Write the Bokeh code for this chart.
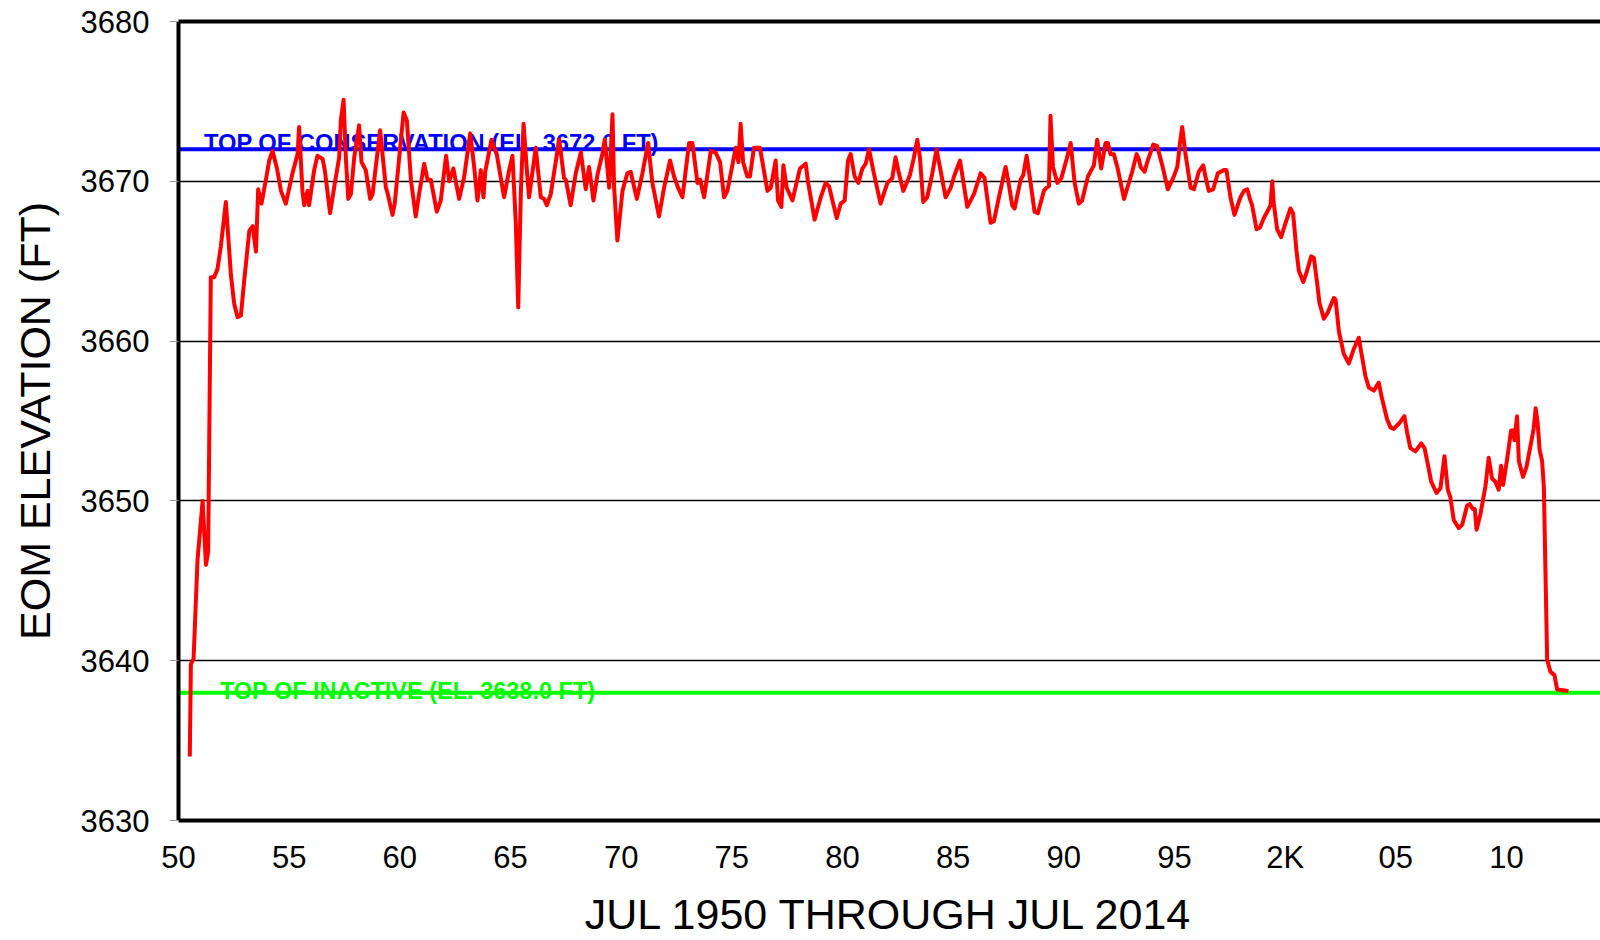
from bokeh.plotting import figure
from bokeh.models import Range1d, FixedTicker, LinearAxis, Span, Label
from bokeh.embed import file_html
from bokeh.resources import INLINE

# ---- data ----
years = [
    1950.51, 1950.56, 1950.68, 1950.86, 1951.09, 1951.24, 1951.34, 1951.46, 1951.61, 1951.76,
    1951.91, 1952.14, 1952.37, 1952.52, 1952.67, 1952.82, 1952.97, 1953.20, 1953.35, 1953.50,
    1953.60, 1953.75, 1953.95, 1954.10, 1954.25, 1954.45, 1954.63, 1954.85, 1955.15, 1955.38,
    1955.45, 1955.60, 1955.68, 1955.83, 1955.90, 1956.13, 1956.28, 1956.51, 1956.61, 1956.85,
    1957.03, 1957.26, 1957.34, 1957.46, 1957.56, 1957.67, 1957.79, 1957.94, 1958.16, 1958.27,
    1958.46, 1958.66, 1958.77, 1959.11, 1959.37, 1959.44, 1959.67, 1959.77, 1960.17, 1960.32,
    1960.50, 1960.72, 1960.87, 1961.10, 1961.25, 1961.40, 1961.67, 1961.85, 1962.09, 1962.23,
    1962.42, 1962.68, 1962.91, 1963.18, 1963.36, 1963.51, 1963.66, 1963.78, 1963.86, 1964.14,
    1964.38, 1964.71, 1964.94, 1965.09, 1965.24, 1965.35, 1965.47, 1965.59, 1965.74, 1965.84,
    1966.14, 1966.37, 1966.52, 1966.64, 1966.82, 1967.20, 1967.42, 1967.50, 1967.72, 1967.95,
    1968.18, 1968.40, 1968.55, 1968.75, 1968.93, 1969.15, 1969.26, 1969.46, 1969.61, 1969.68,
    1969.83, 1970.06, 1970.28, 1970.43, 1970.71, 1970.96, 1971.22, 1971.41, 1971.71, 1971.94,
    1972.21, 1972.39, 1972.57, 1972.77, 1973.07, 1973.22, 1973.45, 1973.57, 1973.75, 1974.05,
    1974.27, 1974.47, 1974.65, 1974.80, 1975.18, 1975.30, 1975.40, 1975.51, 1975.70, 1975.82,
    1976.00, 1976.27, 1976.61, 1976.76, 1976.98, 1977.09, 1977.24, 1977.33, 1977.48, 1977.74,
    1978.08, 1978.34, 1978.44, 1978.74, 1979.02, 1979.24, 1979.39, 1979.74, 1979.92, 1980.10,
    1980.25, 1980.37, 1980.55, 1980.72, 1980.90, 1981.05, 1981.20, 1981.42, 1981.72, 1982.03,
    1982.25, 1982.40, 1982.55, 1982.75, 1983.05, 1983.23, 1983.38, 1983.50, 1983.65, 1983.83,
    1984.06, 1984.25, 1984.43, 1984.66, 1984.89, 1985.04, 1985.31, 1985.64, 1985.94, 1986.24,
    1986.42, 1986.69, 1986.84, 1987.07, 1987.37, 1987.48, 1987.67, 1987.78, 1988.05, 1988.17,
    1988.32, 1988.50, 1988.68, 1988.83, 1989.10, 1989.22, 1989.33, 1989.40, 1989.51, 1989.71,
    1989.89, 1990.13, 1990.31, 1990.49, 1990.68, 1990.83, 1991.09, 1991.36, 1991.51, 1991.69,
    1991.89, 1991.99, 1992.11, 1992.26, 1992.42, 1992.72, 1993.09, 1993.29, 1993.39, 1993.47,
    1993.65, 1993.77, 1994.04, 1994.22, 1994.45, 1994.70, 1994.97, 1995.13, 1995.25, 1995.35,
    1995.50, 1995.73, 1995.88, 1996.10, 1996.30, 1996.40, 1996.55, 1996.75, 1996.96, 1997.23,
    1997.35, 1997.53, 1997.71, 1997.98, 1998.14, 1998.29, 1998.41, 1998.51, 1998.71, 1998.86,
    1999.04, 1999.27, 1999.34, 1999.42, 1999.49, 1999.64, 1999.82, 2000.02, 2000.24, 2000.36,
    2000.51, 2000.62, 2000.82, 2000.97, 2001.18, 2001.30, 2001.45, 2001.55, 2001.75, 2001.93,
    2002.20, 2002.28, 2002.43, 2002.65, 2002.88, 2003.10, 2003.33, 2003.44, 2003.63, 2003.78,
    2004.01, 2004.23, 2004.38, 2004.61, 2004.76, 2004.91, 2005.18, 2005.33, 2005.39, 2005.51,
    2005.66, 2005.89, 2006.15, 2006.30, 2006.49, 2006.60, 2006.84, 2007.02, 2007.20, 2007.35,
    2007.47, 2007.62, 2007.85, 2008.00, 2008.22, 2008.34, 2008.48, 2008.57, 2008.65, 2008.83,
    2009.05, 2009.20, 2009.35, 2009.50, 2009.65, 2009.76, 2009.85, 2010.03, 2010.21, 2010.33,
    2010.36, 2010.48, 2010.56, 2010.75, 2010.90, 2011.08, 2011.23, 2011.32, 2011.41, 2011.50,
    2011.61, 2011.69, 2011.84, 2011.99, 2012.17, 2012.29, 2012.80,
]
elevation_ft = [
    3634.0, 3639.8, 3640.1, 3646.3, 3650.0, 3646.0, 3646.8, 3664.0, 3664.0, 3664.5,
    3665.9, 3668.7, 3664.1, 3662.3, 3661.5, 3661.6, 3663.8, 3666.9, 3667.2, 3665.6,
    3669.5, 3668.6, 3670.1, 3671.3, 3671.9, 3670.8, 3669.4, 3668.6, 3670.5, 3671.7,
    3673.4, 3669.4, 3668.5, 3669.4, 3668.5, 3670.7, 3671.6, 3671.4, 3670.7, 3668.0,
    3669.6, 3671.5, 3673.9, 3675.1, 3671.5, 3668.9, 3669.2, 3671.5, 3673.5, 3671.2,
    3670.7, 3668.9, 3669.2, 3673.2, 3669.6, 3669.3, 3667.9, 3668.6, 3674.3, 3673.8,
    3670.1, 3667.8, 3669.2, 3671.1, 3670.1, 3670.1, 3668.1, 3668.8, 3671.6, 3670.0,
    3670.8, 3668.9, 3670.3, 3673.0, 3670.9, 3668.8, 3670.7, 3669.0, 3670.6, 3672.6,
    3671.7, 3669.0, 3670.7, 3671.6, 3667.4, 3662.1, 3669.4, 3673.6, 3670.7, 3669.0,
    3672.1, 3669.0, 3668.9, 3668.5, 3669.2, 3672.6, 3670.2, 3670.1, 3668.5, 3670.5,
    3671.8, 3669.5, 3670.9, 3668.8, 3670.4, 3671.7, 3672.6, 3669.6, 3674.2, 3669.7,
    3666.3, 3669.4, 3670.5, 3670.6, 3668.9, 3670.5, 3672.4, 3669.9, 3667.8, 3669.6,
    3671.3, 3670.3, 3669.6, 3669.0, 3672.4, 3672.4, 3669.9, 3670.1, 3669.0, 3671.9,
    3671.8, 3671.2, 3669.0, 3669.4, 3672.1, 3671.2, 3673.6, 3671.2, 3670.3, 3670.3,
    3672.1, 3672.1, 3669.4, 3669.6, 3671.3, 3668.8, 3668.4, 3671.0, 3669.6, 3668.8,
    3670.8, 3671.1, 3670.0, 3667.6, 3669.0, 3669.9, 3669.7, 3667.7, 3668.6, 3668.8,
    3671.3, 3671.7, 3670.3, 3669.9, 3670.8, 3671.1, 3672.0, 3670.5, 3668.6, 3669.9,
    3670.2, 3671.5, 3670.5, 3669.4, 3670.4, 3671.5, 3672.6, 3671.5, 3668.7, 3669.0,
    3670.5, 3672.0, 3670.7, 3669.0, 3669.6, 3670.3, 3671.3, 3668.4, 3669.2, 3670.5,
    3670.2, 3667.4, 3667.5, 3669.0, 3670.9, 3670.1, 3668.5, 3668.3, 3670.1, 3670.4,
    3671.6, 3669.9, 3668.1, 3668.0, 3669.4, 3669.6, 3669.7, 3674.1, 3670.9, 3669.9,
    3670.2, 3671.4, 3672.4, 3669.9, 3668.6, 3668.8, 3670.3, 3671.0, 3672.6, 3670.8,
    3672.4, 3672.4, 3671.7, 3671.7, 3670.9, 3668.9, 3670.6, 3671.7, 3671.4, 3670.9,
    3670.6, 3671.2, 3672.3, 3672.2, 3671.0, 3669.5, 3670.3, 3670.9, 3672.4, 3673.4,
    3671.7, 3669.6, 3669.5, 3670.6, 3671.0, 3670.3, 3669.4, 3669.5, 3670.5, 3670.7,
    3670.7, 3669.0, 3667.9, 3669.0, 3669.4, 3669.5, 3668.9, 3668.5, 3667.0, 3667.1,
    3667.7, 3668.3, 3668.5, 3670.0, 3668.6, 3667.0, 3666.5, 3667.4, 3668.3, 3668.0,
    3665.7, 3664.4, 3663.7, 3664.3, 3665.3, 3665.2, 3663.6, 3662.4, 3661.4, 3661.8,
    3662.7, 3662.6, 3660.6, 3659.2, 3658.6, 3659.5, 3660.2, 3659.3, 3657.8, 3657.1,
    3656.9, 3657.4, 3656.4, 3655.1, 3654.6, 3654.5, 3654.9, 3655.2, 3655.3, 3654.3,
    3653.3, 3653.1, 3653.6, 3653.3, 3652.0, 3651.2, 3650.5, 3650.8, 3652.8, 3650.7,
    3650.2, 3648.8, 3648.3, 3648.5, 3649.7, 3649.8, 3649.5, 3649.5, 3648.2, 3649.2,
    3650.9, 3652.7, 3651.4, 3651.2, 3650.7, 3652.2, 3651.0, 3652.6, 3654.4, 3654.4,
    3653.8, 3655.3, 3652.5, 3651.5, 3652.1, 3653.4, 3654.5, 3655.8, 3654.9, 3653.2,
    3652.5, 3650.9, 3640.05, 3639.3, 3639.1, 3638.2, 3638.1,
]

tick_years = [1950, 1955, 1960, 1965, 1970, 1975, 1980, 1985, 1990, 1995, 2000, 2005, 2010]
tick_labels = ["50", "55", "60", "65", "70", "75", "80", "85", "90", "95", "2K", "05", "10"]
y_ticks = [3630, 3640, 3650, 3660, 3670, 3680]

top_conservation = 3672.0
top_inactive = 3638.0
conservation_text = "TOP OF CONSERVATION (EL. 3672.0 FT)"
inactive_text = "TOP OF INACTIVE (EL. 3638.0 FT)"
x_title = "JUL 1950 THROUGH JUL 2014"
y_title = "EOM ELEVATION (FT)"

FONT = "Liberation Sans"

p = figure(
    width=1600, height=940,
    x_range=Range1d(1950, 2014.25), y_range=Range1d(3630, 3680),
    output_backend="svg", toolbar_location=None,
    min_border_left=178, min_border_right=0, min_border_top=21, min_border_bottom=119,
    background_fill_color="white", border_fill_color="white",
)
p.outline_line_color = None

# grid
p.xgrid.visible = False
p.ygrid.ticker = FixedTicker(ticks=y_ticks)
p.ygrid.grid_line_color = "black"
p.ygrid.grid_line_width = 1.5

# x axis
xa = p.xaxis[0]
xa.ticker = FixedTicker(ticks=tick_years)
xa.major_label_overrides = {t: l for t, l in zip(tick_years, tick_labels)}
xa.axis_line_width = 4
xa.axis_line_color = "black"
xa.major_tick_out = 0
xa.major_tick_in = 0
xa.minor_tick_out = 0
xa.minor_tick_in = 0
xa.major_label_text_font = FONT
xa.major_label_text_font_size = "31px"
xa.major_label_text_color = "black"
xa.major_label_standoff = 19
xa.axis_label = x_title
xa.axis_label_text_font = FONT
xa.axis_label_text_font_size = "43px"
xa.axis_label_text_font_style = "normal"
xa.axis_label_text_color = "black"
xa.axis_label_standoff = 12

# y axis
ya = p.yaxis[0]
ya.ticker = FixedTicker(ticks=y_ticks)
ya.axis_line_width = 4
ya.axis_line_color = "black"
ya.major_tick_out = 9
ya.major_tick_in = 0
ya.major_tick_line_color = "#a0a0a0"
ya.major_tick_line_width = 1
ya.minor_tick_out = 0
ya.minor_tick_in = 0
ya.major_label_text_font = FONT
ya.major_label_text_font_size = "31px"
ya.major_label_text_color = "black"
ya.major_label_standoff = 20
ya.axis_label = y_title
ya.axis_label_text_font = FONT
ya.axis_label_text_font_size = "43px"
ya.axis_label_text_font_style = "normal"
ya.axis_label_text_color = "black"
ya.axis_label_standoff = 19

# top border
top = LinearAxis(ticker=FixedTicker(ticks=[]), axis_line_width=4, axis_line_color="black",
                 major_tick_out=0, major_tick_in=0, minor_tick_out=0, minor_tick_in=0,
                 major_label_text_font_size="0px")
p.add_layout(top, "above")

# reference lines
p.add_layout(Span(location=top_conservation, dimension="width", line_color="#0000FF",
                  line_width=4, level="underlay"))
p.add_layout(Span(location=top_inactive, dimension="width", line_color="#00FF00",
                  line_width=4, level="underlay"))

p.add_layout(Label(x=1951.15, y=top_conservation, text=conservation_text, text_font=FONT,
                   text_font_size="23.7px", text_font_style="bold", text_color="#0000FF",
                   text_baseline="alphabetic", text_align="left", y_offset=6, level="underlay"))
p.add_layout(Label(x=1951.87, y=top_inactive, text=inactive_text, text_font=FONT,
                   text_font_size="23.5px", text_font_style="bold", text_color="#00FF00",
                   text_baseline="alphabetic", text_align="left", y_offset=2, level="underlay"))

# elevation series
p.line(years, elevation_ft, line_color="#FF0000", line_width=4, line_join="round")

open("out.html", "w").write(file_html(p, INLINE))
